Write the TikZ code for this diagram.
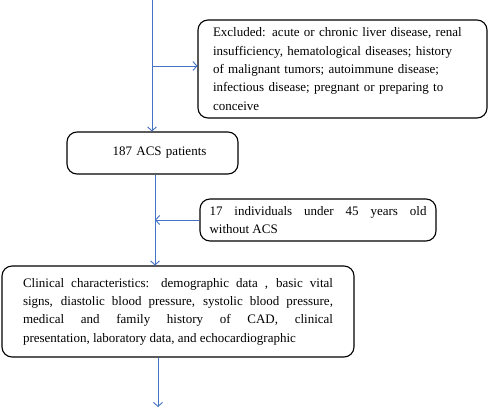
\documentclass[tikz,border=0pt]{standalone}
\usepackage{fontspec}
\setmainfont{Liberation Serif}
\usetikzlibrary{arrows.meta}
\definecolor{flowblue}{HTML}{4472C4}
\begin{document}
\begin{tikzpicture}[x=1pt,y=-1pt,
  box/.style={draw=black,line width=1.1pt,rounded corners=10pt,
    font=\fontsize{13}{18.3}\selectfont,inner ysep=0pt},
  arr/.style={draw=flowblue,line width=0.9pt,-{Straight Barb[length=4pt,width=9pt]}},
  ln/.style={draw=flowblue,line width=0.9pt}]
\useasboundingbox (0,0) rectangle (489,407);
\node[box,minimum width=289pt,minimum height=98pt,text width=259pt,inner xsep=15pt,align=left]
  (excl) at (342.5,69) {Excluded: acute or chronic liver disease, renal\\
  insufficiency, hematological diseases; history\\
  of malignant tumors; autoimmune disease;\\
  infectious disease; pregnant or preparing to\\
  conceive};
\node[box,minimum width=171pt,minimum height=42pt,text width=151pt,inner xsep=10pt,align=center]
  (acs) at (152.5,153) {\hspace*{14pt}187 ACS patients};
\node[box,minimum width=236pt,minimum height=42pt,text width=217pt,inner xsep=9.5pt,align=justify]
  (under) at (318,220) {17 individuals under 45 years old\linebreak without ACS};
\node[box,minimum width=352pt,minimum height=91pt,text width=310pt,inner xsep=21pt,align=justify]
  (clin) at (178,311.5) {Clinical characteristics: demographic data , basic vital\linebreak
  signs, diastolic blood pressure, systolic blood pressure,\linebreak
  medical and family history of CAD, clinical\linebreak
  presentation, laboratory data, and echocardiographic};
\coordinate (top) at (152,0);
\coordinate (b1) at (152,66);
\coordinate (c2) at (155,0);
\coordinate (c3) at (158,0);
\coordinate (bottom) at (158,407);
\draw[arr] (top) -- (acs.north -| top);
\draw[arr] (b1) -- (b1 -| excl.west);
\draw[arr] (acs.south -| c2) -- (clin.north -| c2);
\draw[arr] (under.west) -- (under.west -| c2);
\draw[arr] (clin.south -| c3) -- (bottom);
\end{tikzpicture}
\end{document}
